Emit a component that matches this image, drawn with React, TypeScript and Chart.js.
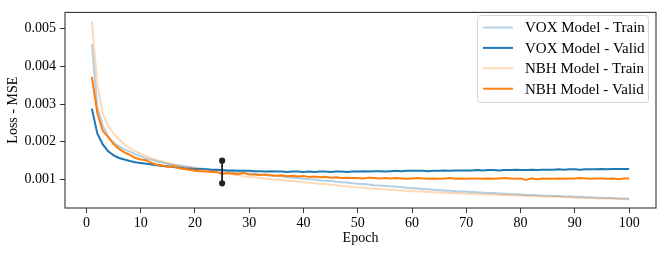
import React, { useEffect, useRef } from "react";
import { Chart, registerables } from "chart.js";

Chart.register(...registerables);

const epochs = [
  1, 2, 3, 4, 5, 6, 7, 8, 9, 10, 11, 12, 13, 14, 15, 16, 17, 18, 19, 20,
  21, 22, 23, 24, 25, 26, 27, 28, 29, 30, 31, 32, 33, 34, 35, 36, 37, 38, 39, 40,
  41, 42, 43, 44, 45, 46, 47, 48, 49, 50, 51, 52, 53, 54, 55, 56, 57, 58, 59, 60,
  61, 62, 63, 64, 65, 66, 67, 68, 69, 70, 71, 72, 73, 74, 75, 76, 77, 78, 79, 80,
  81, 82, 83, 84, 85, 86, 87, 88, 89, 90, 91, 92, 93, 94, 95, 96, 97, 98, 99, 100,
];

const voxTrain = [
  0.00459, 0.00292, 0.00243, 0.00214, 0.00198, 0.00188, 0.0018, 0.00174, 0.00167, 0.00161,
  0.00156, 0.00152, 0.00148, 0.00145, 0.00142, 0.00139, 0.00137, 0.00135, 0.00133, 0.00131,
  0.00129, 0.00128, 0.00126, 0.00125, 0.00123, 0.00122, 0.0012, 0.00119, 0.00117, 0.00116,
  0.00115, 0.00113, 0.00112, 0.0011, 0.00109, 0.00108, 0.00106, 0.00105, 0.00104, 0.00102,
  0.00101, 0.001, 0.00098, 0.00097, 0.00096, 0.00094, 0.00093, 0.00092, 0.0009, 0.00089,
  0.00088, 0.00087, 0.00085, 0.00084, 0.00083, 0.00082, 0.00081, 0.0008, 0.00078, 0.00077,
  0.00076, 0.00075, 0.00074, 0.00073, 0.00072, 0.00071, 0.0007, 0.00069, 0.00068, 0.00068,
  0.00067, 0.00066, 0.00065, 0.00064, 0.00064, 0.00063, 0.00062, 0.00061, 0.00061, 0.0006,
  0.00059, 0.00059, 0.00058, 0.00057, 0.00057, 0.00056, 0.00056, 0.00055, 0.00055, 0.00054,
  0.00054, 0.00053, 0.00053, 0.00052, 0.00052, 0.00051, 0.00051, 0.0005, 0.0005, 0.00049,
];

const voxValid = [
  0.00288, 0.00222, 0.00193, 0.00175, 0.00164, 0.00157, 0.00153, 0.00149, 0.00146, 0.00144,
  0.00142, 0.0014, 0.00138, 0.00136, 0.00135, 0.00133, 0.00132, 0.0013, 0.00129, 0.00128,
  0.00128, 0.00127, 0.00126, 0.00126, 0.00125, 0.00124, 0.00124, 0.00123, 0.00123, 0.00123,
  0.00122, 0.00122, 0.00121, 0.00122, 0.00121, 0.00121, 0.0012, 0.00121, 0.00121, 0.0012,
  0.00121, 0.0012, 0.00121, 0.00121, 0.0012, 0.00121, 0.00121, 0.0012, 0.00121, 0.00121,
  0.00122, 0.00121, 0.00122, 0.00122, 0.00121, 0.00122, 0.00123, 0.00122, 0.00123, 0.00123,
  0.00123, 0.00123, 0.00122, 0.00123, 0.00123, 0.00124, 0.00123, 0.00124, 0.00124, 0.00124,
  0.00124, 0.00125, 0.00124, 0.00125, 0.00125, 0.00124, 0.00125, 0.00125, 0.00126, 0.00125,
  0.00125, 0.00126, 0.00125, 0.00126, 0.00126, 0.00126, 0.00127, 0.00126, 0.00127, 0.00127,
  0.00126, 0.00127, 0.00127, 0.00127, 0.00128, 0.00127, 0.00128, 0.00128, 0.00128, 0.00128,
];

const nbhTrain = [
  0.00519, 0.00352, 0.00276, 0.00242, 0.00222, 0.00206, 0.00193, 0.00183, 0.00175, 0.00168,
  0.00162, 0.00156, 0.00151, 0.00147, 0.00143, 0.0014, 0.00137, 0.00134, 0.00131, 0.00128,
  0.00126, 0.00124, 0.00122, 0.00119, 0.00117, 0.00115, 0.00113, 0.00111, 0.00109, 0.00107,
  0.00106, 0.00104, 0.00103, 0.00101, 0.001, 0.00099, 0.00097, 0.00096, 0.00095, 0.00093,
  0.00092, 0.0009, 0.00089, 0.00088, 0.00086, 0.00085, 0.00083, 0.00082, 0.0008, 0.00079,
  0.00078, 0.00077, 0.00076, 0.00075, 0.00074, 0.00073, 0.00072, 0.00071, 0.0007, 0.00069,
  0.00068, 0.00068, 0.00067, 0.00066, 0.00066, 0.00065, 0.00064, 0.00064, 0.00063, 0.00062,
  0.00062, 0.00061, 0.00061, 0.0006, 0.0006, 0.00059, 0.00059, 0.00058, 0.00058, 0.00057,
  0.00057, 0.00056, 0.00056, 0.00055, 0.00055, 0.00054, 0.00054, 0.00053, 0.00053, 0.00052,
  0.00052, 0.00051, 0.00051, 0.0005, 0.0005, 0.0005, 0.00049, 0.00049, 0.00048, 0.00048,
];

const nbhValid = [
  0.00372, 0.00277, 0.00229, 0.00213, 0.00194, 0.00181, 0.00172, 0.00165, 0.00157, 0.00153,
  0.00151, 0.00144, 0.00139, 0.00137, 0.00133, 0.00135, 0.0013, 0.00128, 0.00126, 0.00123,
  0.00122, 0.00121, 0.0012, 0.0012, 0.00115, 0.00117, 0.00116, 0.00114, 0.00118, 0.00113,
  0.00113, 0.00112, 0.00113, 0.00111, 0.0011, 0.00111, 0.00109, 0.0011, 0.00108, 0.00109,
  0.00107, 0.00108, 0.00106, 0.00107, 0.00105, 0.00106, 0.00104, 0.00105, 0.00104, 0.00104,
  0.00103, 0.00105, 0.00104, 0.00103, 0.00104, 0.00103, 0.00104, 0.00103, 0.00102, 0.00103,
  0.00104, 0.00103, 0.00102, 0.00103, 0.00102, 0.00103, 0.00104, 0.00102, 0.00103, 0.00102,
  0.00103, 0.00103, 0.00102, 0.00103, 0.00102, 0.00103, 0.00104, 0.00103, 0.00102, 0.00103,
  0.00099, 0.00103, 0.00101, 0.00103, 0.00102, 0.00102, 0.00103, 0.00102, 0.00103, 0.00103,
  0.00104, 0.00103, 0.00102, 0.00103, 0.00103, 0.00102, 0.00103, 0.00101, 0.00103, 0.00103,
];

const errEpoch = [25];
const errLow = [0.0009];
const errHigh = [0.0015];

const xTicks = [0, 10, 20, 30, 40, 50, 60, 70, 80, 90, 100];
const yTicks = [0.001, 0.002, 0.003, 0.004, 0.005];

const seriesNames = [
  "VOX Model - Train",
  "VOX Model - Valid",
  "NBH Model - Train",
  "NBH Model - Valid",
];
const seriesColors = [
  "rgba(31,119,180,0.35)",
  "#1f77b4",
  "rgba(255,127,14,0.3)",
  "#ff7f0e",
];

const FONT = "'Liberation Serif', 'Times New Roman', serif";

const framePlugin = {
  id: "frame",
  afterDraw(chart: any) {
    const { ctx, chartArea } = chart;
    ctx.save();
    ctx.strokeStyle = "#333";
    ctx.lineWidth = 1.1;
    ctx.strokeRect(
      chartArea.left,
      chartArea.top,
      chartArea.right - chartArea.left,
      chartArea.bottom - chartArea.top
    );
    // legend
    const bx = 477.5, by = 15.5, bw = 171, bh = 87, r = 3;
    ctx.beginPath();
    ctx.moveTo(bx + r, by);
    ctx.lineTo(bx + bw - r, by);
    ctx.arcTo(bx + bw, by, bx + bw, by + r, r);
    ctx.lineTo(bx + bw, by + bh - r);
    ctx.arcTo(bx + bw, by + bh, bx + bw - r, by + bh, r);
    ctx.lineTo(bx + r, by + bh);
    ctx.arcTo(bx, by + bh, bx, by + bh - r, r);
    ctx.lineTo(bx, by + r);
    ctx.arcTo(bx, by, bx + r, by, r);
    ctx.closePath();
    ctx.fillStyle = "rgba(255,255,255,0.8)";
    ctx.fill();
    ctx.strokeStyle = "#d6d6d6";
    ctx.lineWidth = 1;
    ctx.stroke();
    ctx.font = `15px ${FONT}`;
    ctx.textBaseline = "middle";
    ctx.textAlign = "left";
    seriesNames.forEach((name, i) => {
      const y = 27.5 + i * 20.4;
      ctx.beginPath();
      ctx.strokeStyle = seriesColors[i];
      ctx.lineWidth = 2;
      ctx.moveTo(483, y);
      ctx.lineTo(513, y);
      ctx.stroke();
      ctx.fillStyle = "#000";
      ctx.fillText(name, 525, y + 1);
    });
    ctx.restore();
  },
};

export default function App() {
  const ref = useRef<HTMLCanvasElement | null>(null);

  useEffect(() => {
    document.body.style.margin = "0";
    const canvas = ref.current;
    if (!canvas) return;
    const mk = (ys: number[]) => ys.map((y, i) => ({ x: epochs[i], y }));
    const ds = [voxTrain, voxValid, nbhTrain, nbhValid].map((ys, i) => ({
      label: seriesNames[i],
      data: mk(ys),
      borderColor: seriesColors[i],
      backgroundColor: seriesColors[i],
      borderWidth: 2,
      pointRadius: 0,
      tension: 0,
      order: 4 - i,
    }));
    const errData: any[] = [];
    errEpoch.forEach((e, i) => {
      errData.push({ x: e, y: errHigh[i] });
      errData.push({ x: e, y: errLow[i] });
    });
    const chart = new Chart(canvas, {
      type: "line",
      data: {
        datasets: [
          ...ds,
          {
            label: "err",
            data: errData,
            borderColor: "#222",
            backgroundColor: "#222",
            pointBackgroundColor: "#222",
            pointBorderColor: "#222",
            borderWidth: 1.8,
            pointRadius: 2.2,
            order: 0,
          } as any,
        ],
      },
      options: {
        animation: false,
        responsive: false,
        events: [],
        layout: { padding: { left: 0, top: 7, right: 8, bottom: 0 } },
        plugins: { legend: { display: false }, tooltip: { enabled: false } },
        scales: {
          x: {
            type: "linear",
            min: -3.95,
            max: 104.95,
            afterBuildTicks: (s: any) => {
              s.ticks = xTicks.map((v) => ({ value: v }));
            },
            afterFit: (s: any) => {
              s.height = 47;
            },
            ticks: {
              autoSkip: false,
              maxRotation: 0,
              color: "#000",
              padding: 2,
              font: { family: FONT, size: 14 },
            },
            grid: {
              drawOnChartArea: false,
              drawTicks: true,
              tickLength: 5,
              color: "#333",
              lineWidth: 1,
            },
            border: { display: false },
            title: {
              display: true,
              text: "Epoch",
              color: "#000",
              font: { family: FONT, size: 14 },
              padding: { top: 0, bottom: 8 },
            },
          },
          y: {
            type: "linear",
            min: 0.000245,
            max: 0.00543,
            afterBuildTicks: (s: any) => {
              s.ticks = yTicks.map((v) => ({ value: v }));
            },
            afterFit: (s: any) => {
              s.width = 65;
            },
            ticks: {
              color: "#000",
              padding: 4,
              font: { family: FONT, size: 14 },
              callback: (v: any) => Number(v).toFixed(3),
            },
            grid: {
              drawOnChartArea: false,
              drawTicks: true,
              tickLength: 5,
              color: "#333",
              lineWidth: 1,
            },
            border: { display: false },
            title: {
              display: true,
              text: "Loss - MSE",
              color: "#000",
              font: { family: FONT, size: 14 },
              padding: { top: 5, bottom: 0 },
            },
          },
        },
      },
      plugins: [framePlugin],
    });
    return () => chart.destroy();
  }, []);

  return (
    <div style={{ width: 664, height: 255 }}>
      <canvas ref={ref} width={664} height={255} style={{ display: "block" }} />
    </div>
  );
}
